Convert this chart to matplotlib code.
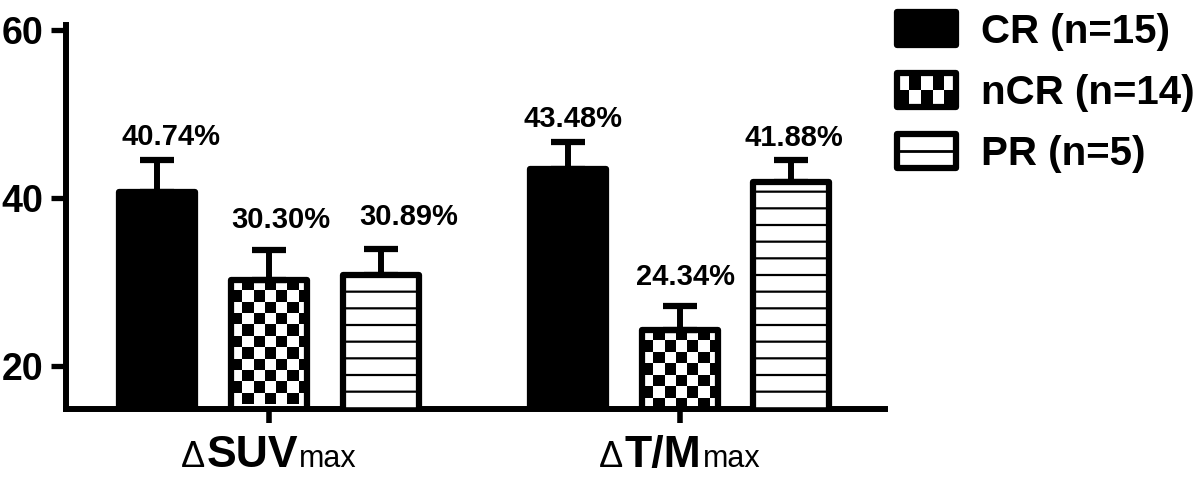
import numpy as np
import matplotlib
matplotlib.use('Agg')
import matplotlib.pyplot as plt
from matplotlib.patches import Rectangle, Patch
from matplotlib.lines import Line2D
from matplotlib.legend_handler import HandlerBase
from matplotlib.offsetbox import TextArea, HPacker, AnnotationBbox

# ---------------- data ----------------
groups_main = ['SUV', 'T/M']
groups_sub = ['max', 'max']
series = ['CR (n=15)', 'nCR (n=14)', 'PR (n=5)']
cr_vals = [40.74, 43.48]
ncr_vals = [30.30, 24.34]
pr_vals = [30.89, 41.88]
cr_err = [3.8, 3.2]
ncr_err = [3.5, 2.8]
pr_err = [3.0, 2.65]
yticks = [20, 40, 60]

# ---------------- style ----------------
plt.rcParams['font.family'] = ['Liberation Sans', 'DejaVu Sans']
plt.rcParams['hatch.linewidth'] = 1.6
plt.rcParams['hatch.color'] = 'black'

LW = 4.5
PX = 100 / 72.0  # px per point
YLIM = (14.9, 60.6)
XLIM = (-0.495, 1.5)

fig = plt.figure(figsize=(11.98, 4.8), dpi=100)
ax = fig.add_axes([0.0547, 0.148, 0.684, 0.800])
ax.set_xlim(*XLIM)
ax.set_ylim(*YLIM)

x = np.arange(len(groups_main))
offs = [-0.272, 0.0, 0.272]
w = 0.185

bars_cr = ax.bar(x + offs[0], cr_vals, w, facecolor='black', edgecolor='black',
                 lw=LW, joinstyle='round', zorder=3)
bars_ncr = ax.bar(x + offs[1], ncr_vals, w, facecolor='none', edgecolor='black',
                  lw=LW, joinstyle='round', zorder=3)
bars_pr = ax.bar(x + offs[2], pr_vals, w, facecolor='white', edgecolor='black',
                 hatch='-', lw=LW, joinstyle='round', zorder=3)

# checkerboard fill for nCR bars (visible part only)
px_per_y = ax.transData.transform((0, 1))[1] - ax.transData.transform((0, 0))[1]
px_per_x = ax.transData.transform((1, 0))[0] - ax.transData.transform((0, 0))[0]
sq = 11.3
for b in bars_ncr:
    x0 = b.get_x()
    bw = b.get_width()
    top = b.get_y() + b.get_height()
    vis_h = top - YLIM[0]
    ncols = int(np.ceil(bw * px_per_x / sq))
    nrows = int(np.floor(vis_h * px_per_y / sq))
    pattern = np.add.outer(np.arange(nrows), np.arange(ncols)) % 2
    ext = (x0, x0 + ncols * sq / px_per_x, top - nrows * sq / px_per_y, top)
    im = ax.imshow(pattern, cmap='gray_r', vmin=0, vmax=1, extent=ext,
                   interpolation='nearest', aspect='auto', zorder=2, origin='upper')
    im.set_clip_path(b)

ax.set_xlim(*XLIM)
ax.set_ylim(*YLIM)

# error bars (upper only)
all_vals = [cr_vals, ncr_vals, pr_vals]
all_errs = [cr_err, ncr_err, pr_err]
for vals, errs, off in zip(all_vals, all_errs, offs):
    ax.errorbar(x + off, vals, yerr=[np.zeros(len(vals)), errs], fmt='none',
                ecolor='black', elinewidth=4.3, capsize=12.5, capthick=4.5, zorder=2.5)

# value labels
label_dx_px = [[14, 5], [12, 5.5], [28, 3]]
label_dy_px = [[15, 15], [22, 21], [24, 14]]
for si, (vals, errs, off) in enumerate(zip(all_vals, all_errs, offs)):
    for gi in range(len(vals)):
        ax.annotate(f'{vals[gi]:.2f}%', xy=(x[gi] + off, vals[gi] + errs[gi]),
                    xytext=(label_dx_px[si][gi] / PX, label_dy_px[si][gi] / PX),
                    textcoords='offset points', ha='center', va='baseline',
                    fontsize=21, fontweight='bold', zorder=5)

# axes styling
ax.set_yticks(yticks)
ax.set_yticklabels([str(t) for t in yticks], fontsize=27, fontweight='bold')
ax.tick_params(axis='y', length=11, width=3.8, pad=5, direction='out')
ax.set_xticks(x)
ax.set_xticklabels(['' for _ in x])
ax.tick_params(axis='x', length=10, width=4, direction='out')
for s in ['top', 'right']:
    ax.spines[s].set_visible(False)
for s in ['left', 'bottom']:
    ax.spines[s].set_linewidth(4.3)

# composite x labels
for gi, (main, sub) in enumerate(zip(groups_main, groups_sub)):
    parts = [TextArea('\u0394', textprops=dict(fontsize=26, fontweight='normal')),
             TextArea(main, textprops=dict(fontsize=32, fontweight='bold')),
             TextArea(sub, textprops=dict(fontsize=22, fontweight='normal'))]
    pack = HPacker(children=parts, align='baseline', pad=0, sep=1)
    ab = AnnotationBbox(pack, (x[gi], 0), xycoords=('data', 'axes fraction'),
                        xybox=(0, -19), boxcoords='offset points',
                        box_alignment=(0.5, 1), frameon=False)
    ax.add_artist(ab)


# legend
class HandlerBox(HandlerBase):
    def __init__(self, kind):
        super().__init__()
        self.kind = kind

    def create_artists(self, legend, orig_handle, xdescent, ydescent, width,
                       height, fontsize, trans):
        x0, y0 = -xdescent, -ydescent
        arts = []
        if self.kind == 'solid':
            arts.append(Rectangle((x0, y0), width, height, facecolor='black',
                                  edgecolor='black', lw=LW, joinstyle='round',
                                  transform=trans))
        elif self.kind == 'checker':
            arts.append(Rectangle((x0, y0), width, height, facecolor='white',
                                  edgecolor='none', transform=trans))
            ncol, nrow = 5, 2
            cw, ch = width / ncol, height / nrow
            for r in range(nrow):
                for c in range(ncol):
                    if (r + c) % 2 == 0:
                        arts.append(Rectangle((x0 + c * cw, y0 + r * ch), cw, ch,
                                              facecolor='black', edgecolor='none',
                                              transform=trans))
            arts.append(Rectangle((x0, y0), width, height, facecolor='none',
                                  edgecolor='black', lw=LW, joinstyle='round',
                                  transform=trans))
        else:
            arts.append(Rectangle((x0, y0), width, height, facecolor='white',
                                  edgecolor='black', lw=LW, joinstyle='round',
                                  transform=trans))
            arts.append(Line2D([x0, x0 + width], [y0 + height / 2] * 2,
                               color='black', lw=2, transform=trans))
        return arts


h_cr, h_ncr, h_pr = Patch(), Patch(), Patch()
fig.legend([h_cr, h_ncr, h_pr], series,
           handler_map={h_cr: HandlerBox('solid'), h_ncr: HandlerBox('checker'),
                        h_pr: HandlerBox('lines')},
           loc='upper left', bbox_to_anchor=(897 / 1198, 0.975), frameon=False,
           prop={'weight': 'bold', 'size': 29}, handlelength=1.47, handleheight=0.9,
           handletextpad=0.62, labelspacing=0.56, borderpad=0, borderaxespad=0)

fig.savefig('out.png', dpi=100)
